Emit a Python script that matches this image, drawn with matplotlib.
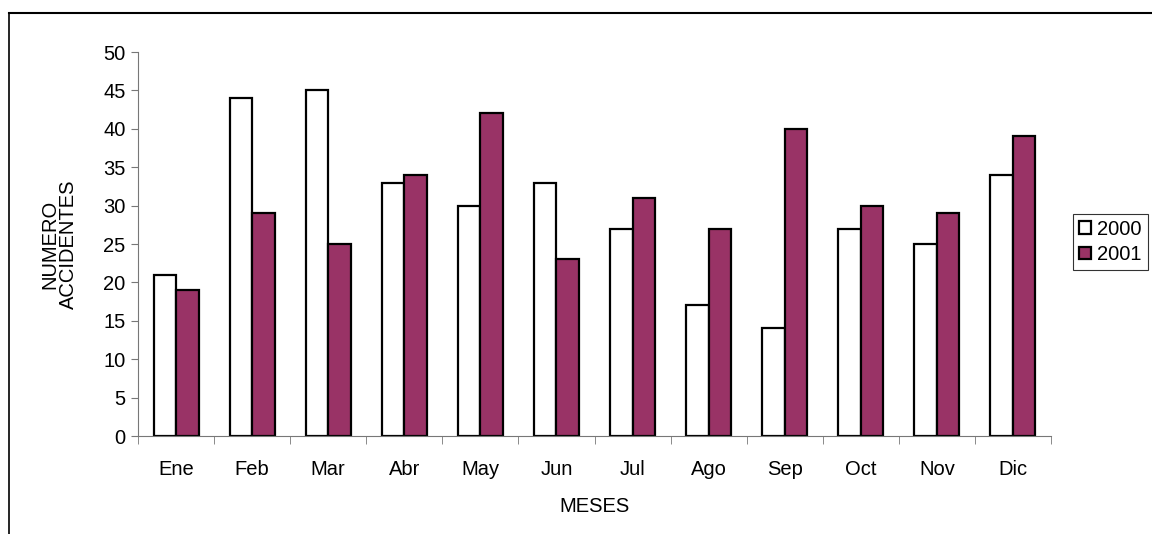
import numpy as np
import matplotlib.pyplot as plt
from matplotlib.lines import Line2D

meses = ["Ene", "Feb", "Mar", "Abr", "May", "Jun", "Jul", "Ago", "Sep", "Oct", "Nov", "Dic"]
acc_2000 = [21, 44, 45, 33, 30, 33, 27, 17, 14, 27, 25, 34]
acc_2001 = [19, 29, 25, 34, 42, 23, 31, 27, 40, 30, 29, 39]

plt.rcParams['font.family'] = ['Liberation Sans', 'DejaVu Sans']
fs = 14.5

fig = plt.figure(figsize=(11.52, 5.34), dpi=100)
ax = fig.add_axes([138/1152, 1 - 436/534, (1051 - 138)/1152, (436 - 52)/534])

x = np.arange(len(meses))
w = 0.296
ax.bar(x - w/2, acc_2000, w, color='white', edgecolor='black', linewidth=1.6, label='2000')
ax.bar(x + w/2, acc_2001, w, color='#993366', edgecolor='black', linewidth=1.6, label='2001')

ax.set_xlim(-0.5, len(meses) - 0.5)
ax.set_ylim(0, 50)
ax.set_yticks(range(0, 51, 5))
ax.set_xticks(x)
ax.set_xticklabels(meses)
ax.set_xticks(np.arange(-0.5, len(meses), 1), minor=True)
ax.tick_params(axis='x', which='major', length=0, pad=17, labelsize=fs)
ax.tick_params(axis='x', which='minor', length=6, color='#777777', direction='out')
ax.tick_params(axis='y', length=5, color='#777777', labelsize=fs, pad=4)

for s in ['top', 'right']:
    ax.spines[s].set_visible(False)
for s in ['left', 'bottom']:
    ax.spines[s].set_color('#777777')

ax.set_xlabel("MESES", fontsize=fs, labelpad=13)
ax.set_ylabel("NUMERO\nACCIDENTES", fontsize=fs, labelpad=18, linespacing=1.0)

leg = ax.legend(loc='center left', bbox_to_anchor=(1073/1152, 1 - 242/534),
                bbox_transform=fig.transFigure, fontsize=fs, frameon=True,
                fancybox=False, edgecolor='black', handlelength=0.6,
                handleheight=0.6, handletextpad=0.3, borderpad=0.3,
                labelspacing=0.3, borderaxespad=0)
leg.get_frame().set_linewidth(0.8)

# chart frame (left and top edges visible)
fig.add_artist(Line2D([9/1152, 9/1152], [0, 1 - 13/534], color='black', lw=1.2, transform=fig.transFigure))
fig.add_artist(Line2D([9/1152, 1], [1 - 13/534, 1 - 13/534], color='black', lw=1.5, transform=fig.transFigure))

fig.savefig("out.png", dpi=100)
